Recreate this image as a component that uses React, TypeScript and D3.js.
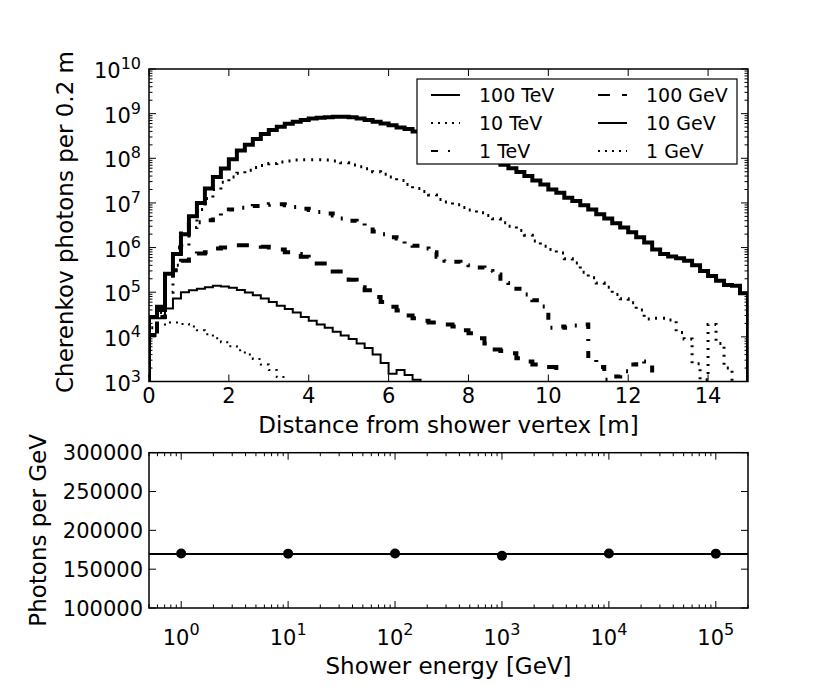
import * as d3 from 'd3';
import { useEffect, useRef } from 'react';

// Cherenkov photons per 0.2 m bin, bins start at 0 m (empty bins after the last value)
const binWidth = 0.2;
const photons100TeV = [
  2.8e4, 4.7e4, 2.6e5, 7.2e5, 2.0e6, 5.0e6, 1.0e7, 2.1e7, 3.8e7, 5.9e7,
  9.5e7, 1.5e8, 2.0e8, 2.7e8, 3.5e8, 4.3e8, 5.1e8, 5.9e8, 6.6e8, 7.2e8,
  7.8e8, 8.1e8, 8.3e8, 8.5e8, 8.5e8, 8.3e8, 7.8e8, 7.2e8, 6.6e8, 6.0e8,
  5.5e8, 4.9e8, 4.5e8, 4.0e8, 3.5e8, 3.1e8, 2.7e8, 2.3e8, 2.0e8, 1.7e8,
  1.45e8, 1.2e8, 1.0e8, 8.5e7, 7.2e7, 6.0e7, 4.9e7, 4.0e7, 3.2e7, 2.6e7,
  2.0e7, 1.7e7, 1.3e7, 1.1e7, 8.9e6, 7.1e6, 5.6e6, 4.5e6, 3.5e6, 2.8e6,
  2.2e6, 1.7e6, 1.3e6, 9.1e5, 7.2e5, 6.3e5, 5.8e5, 5.1e5, 4.0e5, 3.0e5,
  2.3e5, 1.8e5, 1.45e5, 1.4e5, 9.5e4,
];
const photons10TeV = [
  1.6e4, 3.5e4, 1.0e5, 4.0e5, 1.1e6, 2.8e6, 7.1e6, 1.26e7, 2.0e7, 2.9e7,
  3.8e7, 4.6e7, 5.4e7, 6.2e7, 6.9e7, 7.6e7, 8.3e7, 8.7e7, 9.1e7, 9.3e7,
  9.3e7, 9.3e7, 9.1e7, 8.7e7, 7.9e7, 7.1e7, 6.5e7, 5.8e7, 5.0e7, 4.4e7,
  3.8e7, 3.2e7, 2.6e7, 2.1e7, 1.8e7, 1.5e7, 1.2e7, 1.05e7, 9.1e6, 7.9e6,
  6.9e6, 6.0e6, 5.2e6, 4.4e6, 3.6e6, 3.0e6, 2.4e6, 1.9e6, 1.4e6, 1.07e6,
  9.1e5, 7.6e5, 5.6e5, 4.5e5, 2.8e5, 2.1e5, 1.6e5, 1.3e5, 8.9e4, 7.1e4,
  5.8e4, 4.0e4, 2.5e4, 2.6e4, 2.6e4, 2.4e4, 1.26e4, 8.9e3, 2.5e3, 1.1e3,
  1.9e4, 7.1e3, 2.0e3,
];
const photons1TeV = [
  1.1e4, 2.8e4, 2.8e5, 1.0e6, 2.5e6, 3.5e6, 3.7e6, 4.1e6, 4.9e6, 6.3e6,
  7.1e6, 7.8e6, 8.1e6, 8.5e6, 9.1e6, 9.3e6, 9.3e6, 8.9e6, 8.1e6, 7.4e6,
  6.9e6, 6.3e6, 5.8e6, 5.2e6, 4.5e6, 4.0e6, 3.5e6, 3.1e6, 2.3e6, 2.0e6,
  1.7e6, 1.6e6, 1.2e6, 1.1e6, 9.5e5, 7.9e5, 6.2e5, 5.1e5, 4.8e5, 4.5e5,
  4.0e5, 3.6e5, 3.0e5, 2.5e5, 2.0e5, 1.6e5, 1.2e5, 8.9e4, 6.6e4, 4.8e4,
  1.6e4, 1.7e4, 1.6e4, 1.8e4, 1.9e4, 3.2e3, 2.1e3, 1.1e3, 1.3e3, 1.7e3,
  2.4e3, 2.9e3, 2.8e3,
];
const photons100GeV = [
  1.1e4, 4.0e4, 2.0e5, 3.1e5, 5.1e5, 6.9e5, 7.4e5, 7.9e5, 9.5e5, 1.0e6,
  1.1e6, 1.12e6, 1.12e6, 1.12e6, 1.05e6, 1.0e6, 9.1e5, 7.9e5, 7.2e5, 6.2e5,
  5.1e5, 4.4e5, 3.4e5, 2.9e5, 2.2e5, 1.9e5, 1.3e5, 1.1e5, 7.8e4, 6.0e4,
  4.7e4, 3.9e4, 3.0e4, 2.6e4, 2.3e4, 2.1e4, 2.0e4, 1.9e4, 1.7e4, 1.4e4,
  1.2e4, 9.3e3, 7.1e3, 5.2e3, 4.8e3, 4.3e3, 3.3e3, 2.8e3, 2.4e3, 2.1e3,
  2.1e3,
];
const photons10GeV = [
  2.6e4, 2.6e4, 4.3e4, 7.2e4, 1.0e5, 1.1e5, 1.2e5, 1.3e5, 1.4e5, 1.35e5,
  1.26e5, 1.12e5, 9.8e4, 8.5e4, 7.2e4, 6.0e4, 5.0e4, 4.2e4, 3.5e4, 2.8e4,
  2.3e4, 1.9e4, 1.6e4, 1.3e4, 1.07e4, 8.9e3, 7.1e3, 5.6e3, 4.0e3, 2.6e3,
  1.5e3, 1.8e3, 1.4e3, 1.1e3,
];
const photons1GeV = [
  1.4e4, 1.9e4, 2.1e4, 2.1e4, 1.95e4, 1.7e4, 1.4e4, 1.15e4, 9.3e3, 7.6e3,
  6.2e3, 5.0e3, 4.0e3, 3.2e3, 2.4e3, 1.8e3, 1.26e3,
];
const seriesNames = ['100 TeV', '10 TeV', '1 TeV', '100 GeV', '10 GeV', '1 GeV'];
const seriesValues = [photons100TeV, photons10TeV, photons1TeV, photons100GeV, photons10GeV, photons1GeV];

const distanceTicks = [0, 2, 4, 6, 8, 10, 12, 14];
const photonDecades = [3, 4, 5, 6, 7, 8, 9, 10];

// lower panel
const showerEnergy = [1, 10, 100, 1000, 10000, 100000];
const photonsPerGeV = [170100, 170000, 170200, 167400, 170100, 170000];
const meanPhotonsPerGeV = 169600;
const perGeVTicks = [100000, 150000, 200000, 250000, 300000];
const energyDecades = [0, 1, 2, 3, 4, 5];

const lineStyles = [
  { width: 4, dash: null },
  { width: 3, dash: '2,6' },
  { width: 4, dash: '7,10,2,10' },
  { width: 4, dash: '12,12' },
  { width: 2, dash: null },
  { width: 2, dash: '2,5' },
];
const legendDash = [null, '2,5', '7,10,2,10', '12,12', null, '2,5'];

const FONT = 'DejaVu Sans, sans-serif';

const App = () => {
  const ref = useRef<SVGSVGElement | null>(null);

  useEffect(() => {
    if (!ref.current) return;
    const svg = d3.select(ref.current);
    svg.selectAll('*').remove();

    const L = 149, R = 748;
    const T1 = 69, B1 = 381.5;
    const T2 = 452.7, B2 = 608;
    const major = 7, minor = 3.5;
    const tickSize = 21, labelSize = 23, supSize = 16;

    // ---------- top panel ----------
    const x = d3.scaleLinear().domain([0, 15]).range([L, R]);
    const y = d3.scaleLog().domain([1e3, 1e10]).range([B1, T1]);

    svg.append('clipPath').attr('id', 'clipTop')
      .append('rect').attr('x', L).attr('y', T1).attr('width', R - L).attr('height', B1 - T1);

    const lines = svg.append('g').attr('clip-path', 'url(#clipTop)');
    const step = d3.line<[number, number]>()
      .x(d => x(d[0]))
      .y(d => (d[1] > 0 ? y(d[1]) : B1 + 40));

    seriesValues.forEach((vals, k) => {
      const pts: [number, number][] = [[0, 0]];
      vals.forEach((v, i) => {
        pts.push([i * binWidth, v]);
        pts.push([(i + 1) * binWidth, v]);
      });
      pts.push([vals.length * binWidth, 0]);
      pts.push([15.5, 0]);
      const st = lineStyles[k];
      lines.append('path')
        .attr('d', step(pts))
        .attr('fill', 'none')
        .attr('stroke', 'black')
        .attr('stroke-width', st.width)
        .attr('stroke-linejoin', 'miter')
        .attr('stroke-dasharray', st.dash);
    });

    const ax1 = svg.append('g').attr('stroke', 'black').attr('stroke-width', 1);
    distanceTicks.forEach(t => {
      ax1.append('line').attr('x1', x(t)).attr('x2', x(t)).attr('y1', B1).attr('y2', B1 - major);
      ax1.append('line').attr('x1', x(t)).attr('x2', x(t)).attr('y1', T1).attr('y2', T1 + major);
    });
    photonDecades.forEach(d => {
      const yy = y(Math.pow(10, d));
      ax1.append('line').attr('x1', L).attr('x2', L + major).attr('y1', yy).attr('y2', yy);
      ax1.append('line').attr('x1', R).attr('x2', R - major).attr('y1', yy).attr('y2', yy);
      if (d < 10) {
        for (let m = 2; m <= 9; m++) {
          const ym = y(m * Math.pow(10, d));
          ax1.append('line').attr('x1', L).attr('x2', L + minor).attr('y1', ym).attr('y2', ym);
          ax1.append('line').attr('x1', R).attr('x2', R - minor).attr('y1', ym).attr('y2', ym);
        }
      }
    });

    svg.append('rect').attr('x', L).attr('y', T1).attr('width', R - L).attr('height', B1 - T1)
      .attr('fill', 'none').attr('stroke', 'black').attr('stroke-width', 1.5);

    const txt = svg.append('g').attr('font-family', FONT).attr('fill', 'black');
    distanceTicks.forEach(t => {
      txt.append('text').attr('x', x(t)).attr('y', B1 + 21).attr('text-anchor', 'middle')
        .attr('font-size', tickSize).text(String(t));
    });
    photonDecades.forEach(d => {
      const yy = y(Math.pow(10, d));
      const t = txt.append('text').attr('x', L - 8).attr('y', yy + 9).attr('text-anchor', 'end')
        .attr('font-size', tickSize);
      t.append('tspan').text('10');
      t.append('tspan').attr('dy', -9).attr('font-size', supSize).text(String(d));
    });
    txt.append('text').attr('x', (L + R) / 2).attr('y', 433).attr('text-anchor', 'middle')
      .attr('font-size', labelSize).text('Distance from shower vertex [m]');
    txt.append('text').attr('transform', `translate(73,222) rotate(-90)`)
      .attr('text-anchor', 'middle').attr('font-size', labelSize).text('Cherenkov photons per 0.2 m');

    // legend
    const lg = svg.append('g').attr('font-family', FONT);
    lg.append('rect').attr('x', 417).attr('y', 79).attr('width', 320).attr('height', 85)
      .attr('fill', 'white').attr('stroke', 'black').attr('stroke-width', 1.2);
    seriesNames.forEach((name, k) => {
      const col = Math.floor(k / 3), row = k % 3;
      const lx = col === 0 ? 431 : 598;
      const ly = 95 + row * 28;
      lg.append('line').attr('x1', lx).attr('x2', lx + 29).attr('y1', ly).attr('y2', ly)
        .attr('stroke', 'black').attr('stroke-width', 2).attr('stroke-dasharray', legendDash[k]);
      lg.append('text').attr('x', lx + 48).attr('y', ly + 7).attr('font-size', 19).text(name);
    });

    // ---------- bottom panel ----------
    const x2 = d3.scaleLog().domain([0.5, 2e5]).range([L, R]);
    const y2 = d3.scaleLinear().domain([1e5, 3e5]).range([B2, T2]);

    svg.append('line').attr('x1', L).attr('x2', R)
      .attr('y1', y2(meanPhotonsPerGeV)).attr('y2', y2(meanPhotonsPerGeV))
      .attr('stroke', 'black').attr('stroke-width', 2);
    svg.append('g').selectAll('circle').data(showerEnergy).enter().append('circle')
      .attr('cx', d => x2(d)).attr('cy', (_, i) => y2(photonsPerGeV[i])).attr('r', 5)
      .attr('fill', 'black');

    const ax2 = svg.append('g').attr('stroke', 'black').attr('stroke-width', 1);
    for (let d = -1; d <= 5; d++) {
      if (d >= 0) {
        const xx = x2(Math.pow(10, d));
        ax2.append('line').attr('x1', xx).attr('x2', xx).attr('y1', B2).attr('y2', B2 - major);
        ax2.append('line').attr('x1', xx).attr('x2', xx).attr('y1', T2).attr('y2', T2 + major);
      }
      for (let m = 2; m <= 9; m++) {
        const v = m * Math.pow(10, d);
        if (v < 0.5 || v > 2e5) continue;
        const xm = x2(v);
        ax2.append('line').attr('x1', xm).attr('x2', xm).attr('y1', B2).attr('y2', B2 - minor);
        ax2.append('line').attr('x1', xm).attr('x2', xm).attr('y1', T2).attr('y2', T2 + minor);
      }
    }
    perGeVTicks.forEach(t => {
      const yy = y2(t);
      ax2.append('line').attr('x1', L).attr('x2', L + major).attr('y1', yy).attr('y2', yy);
      ax2.append('line').attr('x1', R).attr('x2', R - major).attr('y1', yy).attr('y2', yy);
    });
    svg.append('rect').attr('x', L).attr('y', T2).attr('width', R - L).attr('height', B2 - T2)
      .attr('fill', 'none').attr('stroke', 'black').attr('stroke-width', 1.5);

    perGeVTicks.forEach(t => {
      txt.append('text').attr('x', L - 6).attr('y', y2(t) + 7.5).attr('text-anchor', 'end')
        .attr('font-size', tickSize).text(String(t));
    });
    energyDecades.forEach(d => {
      const t = txt.append('text').attr('x', x2(Math.pow(10, d))).attr('y', 645)
        .attr('text-anchor', 'middle').attr('font-size', tickSize);
      t.append('tspan').text('10');
      t.append('tspan').attr('dy', -10).attr('font-size', supSize).text(String(d));
    });
    txt.append('text').attr('x', (L + R) / 2).attr('y', 674).attr('text-anchor', 'middle')
      .attr('font-size', labelSize).text('Shower energy [GeV]');
    txt.append('text').attr('transform', `translate(46,${(T2 + B2) / 2}) rotate(-90)`)
      .attr('text-anchor', 'middle').attr('font-size', labelSize).text('Photons per GeV');
  }, []);

  return (
    <svg ref={ref} width={830} height={692}
      style={{ position: 'absolute', left: 0, top: 0, background: 'white' }} />
  );
};

export default App;
